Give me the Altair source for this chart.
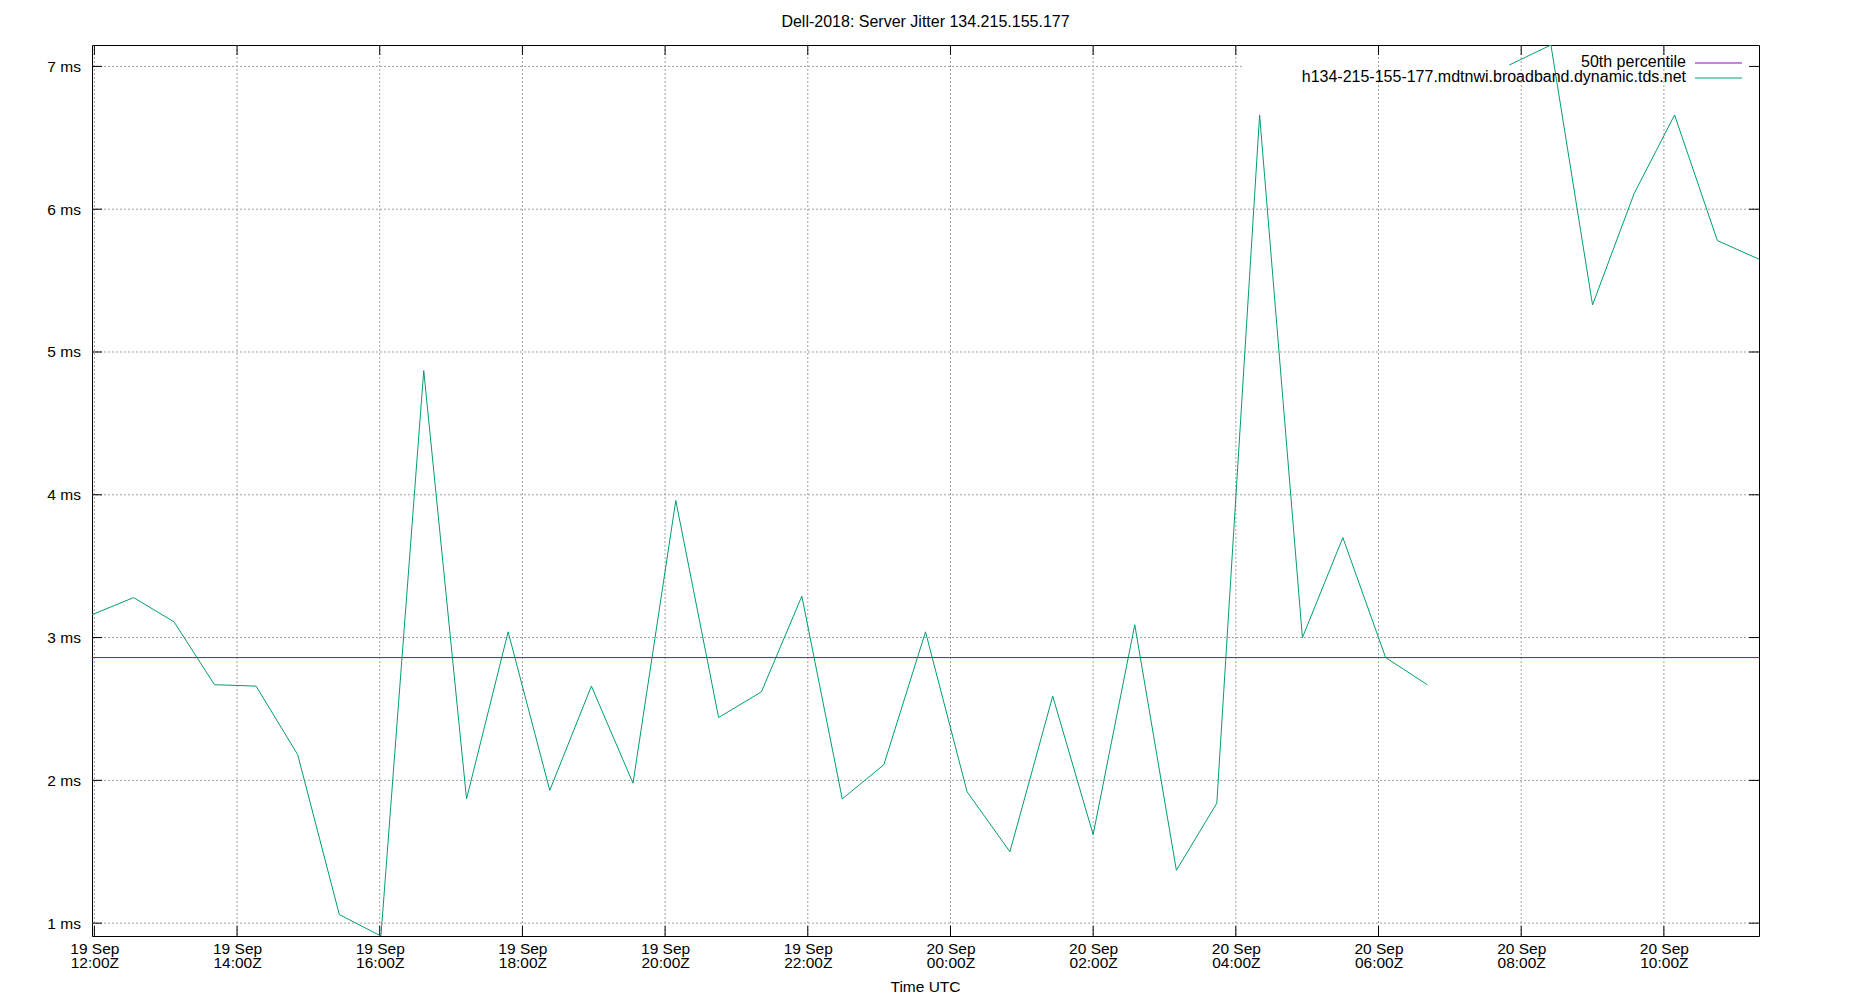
import altair as alt
import pandas as pd

# ---------------- data ----------------
times = [
    "2018-09-19T11:58:00Z", "2018-09-19T12:33:00Z", "2018-09-19T13:07:00Z", "2018-09-19T13:41:00Z",
    "2018-09-19T14:16:00Z", "2018-09-19T14:51:00Z", "2018-09-19T15:26:00Z", "2018-09-19T16:01:00Z",
    "2018-09-19T16:37:00Z", "2018-09-19T17:13:00Z", "2018-09-19T17:48:00Z", "2018-09-19T18:23:00Z",
    "2018-09-19T18:58:00Z", "2018-09-19T19:33:00Z", "2018-09-19T20:09:00Z", "2018-09-19T20:45:00Z",
    "2018-09-19T21:21:00Z", "2018-09-19T21:55:00Z", "2018-09-19T22:29:00Z", "2018-09-19T23:04:00Z",
    "2018-09-19T23:39:00Z", "2018-09-20T00:14:00Z", "2018-09-20T00:50:00Z", "2018-09-20T01:26:00Z",
    "2018-09-20T02:00:00Z", "2018-09-20T02:35:00Z", "2018-09-20T03:10:00Z", "2018-09-20T03:44:00Z",
    "2018-09-20T04:20:00Z", "2018-09-20T04:56:00Z", "2018-09-20T05:30:00Z", "2018-09-20T06:06:00Z",
    "2018-09-20T06:41:00Z",
    "2018-09-20T07:50:00Z", "2018-09-20T08:25:00Z", "2018-09-20T09:00:00Z", "2018-09-20T09:35:00Z",
    "2018-09-20T10:09:00Z", "2018-09-20T10:45:00Z", "2018-09-20T11:20:00Z",
]
jitter_ms = [
    3.16, 3.28, 3.11, 2.67, 2.66, 2.18, 1.06, 0.91,
    4.87, 1.87, 3.04, 1.93, 2.66, 1.98, 3.96, 2.44,
    2.62, 3.29, 1.87, 2.11, 3.04, 1.92, 1.50, 2.59,
    1.62, 3.09, 1.37, 1.84, 6.66, 3.00, 3.70, 2.86,
    2.67,
    7.01, 7.15, 5.33, 6.11, 6.66, 5.78, 5.65,
]
# line segment id (the line is broken where a sample is missing)
segment = [0] * 33 + [1] * 7
p50_ms = [2.86]

x_tick_times = [
    "2018-09-19T12:00:00Z", "2018-09-19T14:00:00Z", "2018-09-19T16:00:00Z",
    "2018-09-19T18:00:00Z", "2018-09-19T20:00:00Z", "2018-09-19T22:00:00Z",
    "2018-09-20T00:00:00Z", "2018-09-20T02:00:00Z", "2018-09-20T04:00:00Z",
    "2018-09-20T06:00:00Z", "2018-09-20T08:00:00Z", "2018-09-20T10:00:00Z",
]
y_ticks = [1, 2, 3, 4, 5, 6, 7]

title_text = "Dell-2018: Server Jitter 134.215.155.177"
x_title = "Time UTC"
legend_labels = ["50th percentile", "h134-215-155-177.mdtnwi.broadband.dynamic.tds.net"]
legend_colors = ["#9400d3", "#009e73"]

# ---------------- layout / style ----------------
W, H = 1667, 891
FONT = "Liberation Sans"
GRID = "#a0a0a0"
TICK = 10


def to_ms(s):
    return int(pd.Timestamp(s).value // 10**6)


data = pd.DataFrame({"t": times, "v": jitter_ms, "seg": segment})
ticks_df = pd.DataFrame({"t": x_tick_times})
ygrid_df = pd.DataFrame({"v": y_ticks[:-1]})
ygrid_top_df = pd.DataFrame({"v": y_ticks[-1:]})
ytick_df = pd.DataFrame({"v": y_ticks})
p50_df = pd.DataFrame({"v": p50_ms})
one = pd.DataFrame({"title": [title_text], "l0": [legend_labels[0]], "l1": [legend_labels[1]],
                    "xt": [x_title]})

xscale = alt.Scale(type="utc", domain=[to_ms(times[0]), to_ms(times[-1])], nice=False)
yscale = alt.Scale(domain=[min(jitter_ms), max(jitter_ms)], zero=False, nice=False)

xaxis = alt.Axis(
    values=[to_ms(s) for s in x_tick_times],
    labelExpr="[utcFormat(datum.value, '%d %b'), utcFormat(datum.value, '%H:%MZ')]",
    grid=False, ticks=False, domain=False,
    labelFont=FONT, labelFontSize=15.5, labelColor="black",
    labelBaseline="alphabetic", labelPadding=17, labelLineHeight=14.3,
    labelAlign="center", labelOverlap=False, labelFlush=False,
    title=None,
)
yaxis = alt.Axis(
    values=y_ticks, labelExpr="datum.value + ' ms'",
    grid=False, ticks=False, domain=False,
    labelFont=FONT, labelFontSize=15.5, labelColor="black",
    labelPadding=11.6, labelBaseline="middle", title=None,
)


def X(field="t"):
    return alt.X(f"{field}:T", scale=xscale, axis=xaxis)


def Y(field="v"):
    return alt.Y(f"{field}:Q", scale=yscale, axis=yaxis)


grid_style = dict(color=GRID, strokeDash=[2, 2], strokeWidth=1)

xgrid = alt.Chart(ticks_df).mark_rule(**grid_style).encode(
    x=X(), y=alt.value(0), y2=alt.value(H))
ygrid = alt.Chart(ygrid_df).mark_rule(**grid_style).encode(
    y=Y(), x=alt.value(0), x2=alt.value(W))
# gnuplot leaves the horizontal grid line out where it would cross the key
ygrid_top = alt.Chart(ygrid_top_df).mark_rule(**grid_style).encode(
    y=Y(), x=alt.value(0), x2=alt.value(1151))

tick_style = dict(color="black", strokeWidth=1)
top_ticks = alt.Chart(ticks_df).mark_rule(**tick_style).encode(
    x=X(), y=alt.value(0), y2=alt.value(TICK))
bottom_ticks = alt.Chart(ticks_df).mark_rule(**tick_style).encode(
    x=X(), y=alt.value(H - TICK), y2=alt.value(H))
left_ticks = alt.Chart(ytick_df).mark_rule(**tick_style).encode(
    y=Y(), x=alt.value(0), x2=alt.value(TICK))
right_ticks = alt.Chart(ytick_df).mark_rule(**tick_style).encode(
    y=Y(), x=alt.value(W - TICK), x2=alt.value(W))

p50 = alt.Chart(p50_df).mark_rule(color=legend_colors[0], strokeWidth=1).encode(
    y=Y(), x=alt.value(0), x2=alt.value(W))

line = alt.Chart(data).mark_line(color=legend_colors[1], strokeWidth=1, clip=True).encode(
    x=X(), y=Y(), detail="seg:N")

text_style = dict(font=FONT, fontSize=16, color="black", align="right", baseline="middle")
leg_t0 = alt.Chart(one).mark_text(**text_style).encode(
    text="l0:N", x=alt.value(1594), y=alt.value(16.6))
leg_t1 = alt.Chart(one).mark_text(**text_style).encode(
    text="l1:N", x=alt.value(1594), y=alt.value(31.6))
leg_s0 = alt.Chart(one).mark_rule(color=legend_colors[0], strokeWidth=1).encode(
    x=alt.value(1603), x2=alt.value(1650), y=alt.value(18))
leg_s1 = alt.Chart(one).mark_rule(color=legend_colors[1], strokeWidth=1).encode(
    x=alt.value(1603), x2=alt.value(1650), y=alt.value(33))

title = alt.Chart(one).mark_text(font=FONT, fontSize=16, color="black",
                                 align="center", baseline="alphabetic").encode(
    text="title:N", x=alt.value(W / 2), y=alt.value(-17.7))

# x-axis title (gnuplot xlabel), placed below the two-line tick labels
xlabel = alt.Chart(one).mark_text(font=FONT, fontSize=15.5, color="black",
                                  align="center", baseline="alphabetic").encode(
    text="xt:N", x=alt.value(W / 2), y=alt.value(H + 56.2))

chart = alt.layer(
    xgrid, ygrid, ygrid_top,
    top_ticks, bottom_ticks, left_ticks, right_ticks,
    p50, line,
    leg_t0, leg_t1, leg_s0, leg_s1, title, xlabel,
).properties(
    width=W, height=H,
    autosize=alt.AutoSizeParams(type="none"),
    padding={"left": 84, "top": 37, "right": 50, "bottom": 62},
    background="white",
).configure_view(stroke="black", strokeWidth=1)

chart.save("out.html", embed_options={"renderer": "svg", "actions": False})
